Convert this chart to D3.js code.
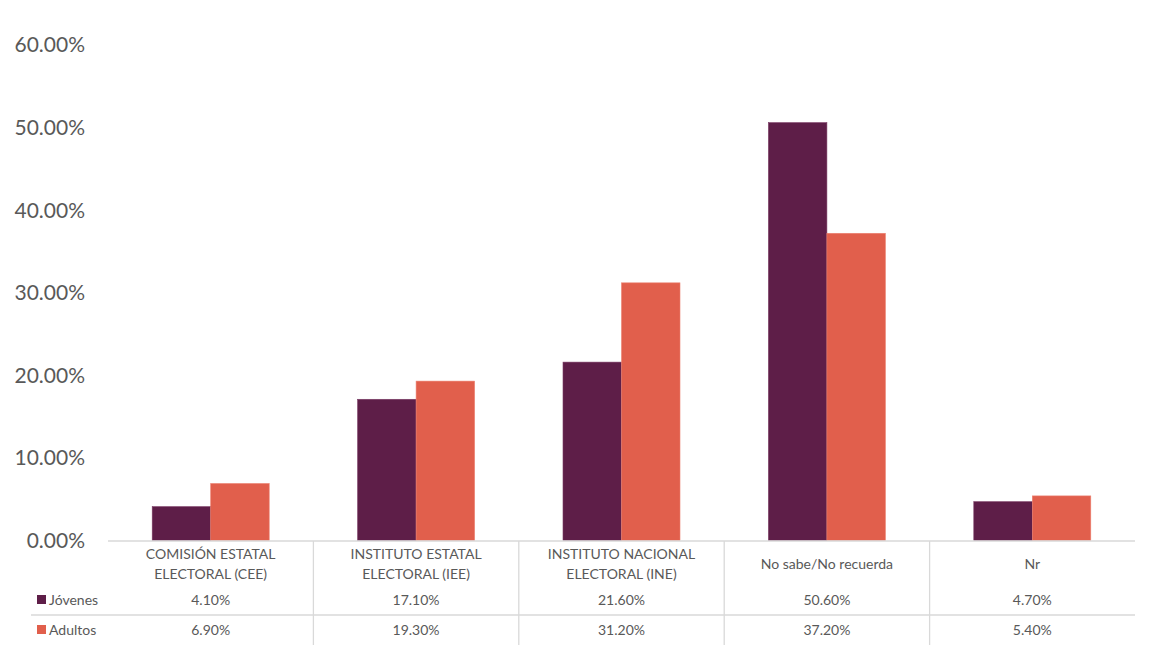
<!DOCTYPE html>
<html><head><meta charset="utf-8">
<script src="https://cdn.jsdelivr.net/npm/d3@7"></script>
<style>body{margin:0;background:#fff}svg{display:block}text{font-family:Lato,"Open Sans",sans-serif}</style>
</head><body>
<script>
const categories = [["COMISIÓN ESTATAL","ELECTORAL (CEE)"],["INSTITUTO ESTATAL","ELECTORAL (IEE)"],["INSTITUTO NACIONAL","ELECTORAL (INE)"],["No sabe/No recuerda"],["Nr"]];
const jovenes = [4.1, 17.1, 21.6, 50.6, 4.7];
const adultos = [6.9, 19.3, 31.2, 37.2, 5.4];
const seriesNames = ["Jóvenes", "Adultos"];
const yTicks = [0, 10, 20, 30, 40, 50, 60];

const W = 1149, H = 647;
const colors = ["#5E1E48", "#E15F4C"];
const strokes = ["#7a3a63", "#ec8070"];
const svg = d3.select("body").append("svg").attr("width", W).attr("height", H);

const x = d3.scaleBand().domain(d3.range(categories.length)).range([108, 1135]).paddingInner(0).paddingOuter(0);
const y = d3.scaleLinear().domain([0, 60]).range([540.5, 45]);
const bw = 58.5;

// y labels
svg.append("g").selectAll("text").data(yTicks).join("text")
  .attr("x", 85).attr("y", d => y(d)).attr("dy", "0.35em")
  .attr("text-anchor", "end").attr("font-size", 21).attr("fill", "#595959")
  .text(d => d.toFixed(2) + "%");

const series = [jovenes, adultos];
series.forEach((vals, s) => {
  svg.append("g").selectAll("rect").data(vals).join("rect")
    .attr("x", (d, i) => x(i) + x.bandwidth() / 2 - bw + s * bw)
    .attr("y", d => y(d))
    .attr("width", bw)
    .attr("height", d => y(0) - y(d))
    .attr("fill", colors[s]).attr("stroke", strokes[s]).attr("stroke-width", 0.6);
});

// table lines
const lc = "#d9d9d9";
svg.append("line").attr("x1", 108).attr("x2", 1135).attr("y1", 541).attr("y2", 541).attr("stroke", lc).attr("stroke-width", 1.3);
svg.append("line").attr("x1", 31).attr("x2", 1135).attr("y1", 615).attr("y2", 615).attr("stroke", lc).attr("stroke-width", 1.3);
svg.append("g").selectAll("line").data(d3.range(1, categories.length)).join("line")
  .attr("x1", i => x(i)).attr("x2", i => x(i)).attr("y1", 541).attr("y2", 645)
  .attr("stroke", lc).attr("stroke-width", 1.3);

// category labels
const cg = svg.append("g").selectAll("text").data(categories).join("text")
  .attr("text-anchor", "middle").attr("font-size", 14).attr("fill", "#595959");
cg.each(function(d, i) {
  const t = d3.select(this);
  const cx = x(i) + x.bandwidth() / 2;
  const y0 = d.length === 1 ? 564 : 554;
  d.forEach((line, k) => {
    t.append("tspan").attr("x", cx).attr("y", y0 + k * 20).attr("dy", "0.35em").text(line);
  });
});

// data rows
const rowY = [600, 630];
series.forEach((vals, s) => {
  svg.append("rect").attr("x", 37).attr("y", rowY[s] - 5).attr("width", 9).attr("height", 9).attr("fill", colors[s]);
  svg.append("text").attr("x", 49).attr("y", rowY[s]).attr("dy", "0.35em").attr("font-size", 14).attr("fill", "#595959").text(seriesNames[s]);
  svg.append("g").selectAll("text").data(vals).join("text")
    .attr("x", (d, i) => x(i) + x.bandwidth() / 2).attr("y", rowY[s]).attr("dy", "0.35em")
    .attr("text-anchor", "middle").attr("font-size", 14).attr("fill", "#595959")
    .text(d => d.toFixed(2) + "%");
});
</script>
</body></html>
